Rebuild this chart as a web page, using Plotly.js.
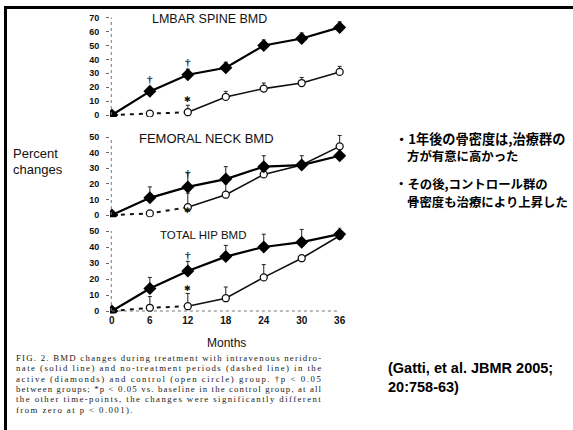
<!DOCTYPE html>
<html>
<head>
<meta charset="utf-8">
<script src="https://cdn.plot.ly/plotly-3.0.1.min.js"></script>
<style>html,body{margin:0;padding:0;background:#fff;}#chart{width:573px;height:430px;}</style>
</head>
<body>
<div id="chart"></div>
<script>
// ---- data ----
const months = [0, 6, 12, 18, 24, 30, 36];
const monthLabels = ["0", "6", "12", "18", "24", "30", "36"];

const lumbarActive = [0, 17, 29, 34, 50, 55, 63];
const lumbarActiveErr = [0, 3, 4, 4, 4, 4, 4];
const lumbarControl = [0, 1, 2, 13, 19, 23, 31];
const lumbarControlErr = [0, 2, 5, 4, 4, 4, 4];

const femoralActive = [0, 11, 18, 23, 31, 32, 38];
const femoralActiveErr = [0, 7, 9, 8, 7, 0, 0];
const femoralControl = [0, 1, 5, 13, 26, 32, 44];
const femoralControlErr = [0, 0, 9, 7, 4, 6, 7];

const hipActive = [0, 14, 25, 34, 40, 43, 48];
const hipActiveErr = [0, 7, 6, 7, 8, 8, 4];
const hipControl = [0, 2, 3, 8, 21, 33, 47];
const hipControlErr = [0, 7, 8, 7, 8, 0, 0];

// significance marks: [month, value]
const daggerLumbar = [[6, 26], [12, 38]];
const starLumbar = [[12, 11]];
const daggerFemoral = [[12, 27]];
const starFemoral = [[12, 3]];
const daggerHip = [[12, 35]];
const starHip = [[12, 14]];

const panelTitles = ["LMBAR SPINE BMD", "FEMORAL NECK BMD", "TOTAL HIP BMD"];
const yTickVals = [[0, 10, 20, 30, 40, 50, 60, 70], [0, 10, 20, 30, 40, 50], [0, 10, 20, 30, 40, 50]];

const jpLines = ["・1年後の骨密度は,治療群の", "方が有意に高かった", "・その後,コントロール群の", "骨密度も治療により上昇した"];
const citeLines = ["(Gatti, et al. JBMR 2005;", "20:758-63)"];
const captionLines = [
  "FIG. 2. BMD changes during treatment with intravenous neridro-",
  "nate (solid line) and no-treatment periods (dashed line) in the",
  "active (diamonds) and control (open circle) group. †p < 0.05",
  "between groups; *p < 0.05 vs. baseline in the control group, at all",
  "the other time-points, the changes were significantly different",
  "from zero at p < 0.001)."
];

// ---- layout helpers ----
const W = 573, H = 430;
const px = x => x / W;
const py = y => 1 - y / H;

const xDom = [px(110), px(346)];
const xRange = [-0.3, 37];
const panels = [
  {zero: 115, ppu: 1.39, range: [-1.5, 72]},
  {zero: 215, ppu: 1.56, range: [-1.5, 52]},
  {zero: 311, ppu: 1.60, range: [-1.5, 52]}
];
function yDomain(p) {
  const top = p.zero - p.range[1] * p.ppu;
  const bot = p.zero - p.range[0] * p.ppu;
  return [py(bot), py(top)];
}

const datasets = [
  [lumbarActive, lumbarActiveErr, lumbarControl, lumbarControlErr, daggerLumbar, starLumbar],
  [femoralActive, femoralActiveErr, femoralControl, femoralControlErr, daggerFemoral, starFemoral],
  [hipActive, hipActiveErr, hipControl, hipControlErr, daggerHip, starHip]
];

const traces = [];
const annotations = [];
const shapes = [];
const titleX = [150, 137, 158];
const titleY = [19, 138, 235];
const titleSize = [12.5, 13, 11.5];

datasets.forEach((d, i) => {
  const xa = i === 0 ? 'x' : 'x' + (i + 1);
  const ya = i === 0 ? 'y' : 'y' + (i + 1);
  const [act, actErr, ctl, ctlErr, dag, star] = d;
  traces.push({
    x: months.slice(0, 3), y: ctl.slice(0, 3), xaxis: xa, yaxis: ya,
    mode: 'lines', line: {color: '#111', width: 2, dash: '4px,5px'}, hoverinfo: 'skip'
  });
  traces.push({
    x: months.slice(2), y: ctl.slice(2), xaxis: xa, yaxis: ya,
    mode: 'lines', line: {color: '#111', width: 1.6}, hoverinfo: 'skip'
  });
  traces.push({
    x: months.slice(1), y: ctl.slice(1), xaxis: xa, yaxis: ya,
    mode: 'markers',
    marker: {symbol: 'circle', size: 7, color: '#fff', line: {color: '#111', width: 1.3}},
    error_y: {type: 'data', symmetric: false, array: ctlErr.slice(1), arrayminus: ctlErr.slice(1).map(() => 0), color: '#222', thickness: 1, width: 2}
  });
  traces.push({
    x: months, y: act, xaxis: xa, yaxis: ya,
    mode: 'lines+markers',
    line: {color: '#000', width: 2.2},
    marker: {symbol: 'diamond', size: 10, color: '#000'},
    error_y: {type: 'data', symmetric: false, array: actErr, arrayminus: actErr.map(() => 0), color: '#222', thickness: 1, width: 2}
  });
  dag.forEach(([m, v]) => annotations.push({x: m, y: v, xref: xa, yref: ya, text: '†', showarrow: false,
    font: {family: 'Liberation Serif, serif', size: 11, color: '#222', weight: 'bold'}}));
  star.forEach(([m, v]) => annotations.push({x: m, y: v, xref: xa, yref: ya, text: '✱', showarrow: false,
    font: {family: 'DejaVu Sans, sans-serif', size: 8, color: '#111'}}));
  shapes.push({type: 'line', xref: xa, yref: ya, x0: -0.1, x1: -0.1, y0: 0, y1: yTickVals[i][yTickVals[i].length - 1],
    line: {color: '#777', width: 1, dash: 'dot'}});
  annotations.push({xref: 'paper', yref: 'paper', x: px(titleX[i]), y: py(titleY[i]),
    xanchor: 'left', yanchor: 'middle', text: panelTitles[i], showarrow: false,
    font: {family: 'Liberation Sans, Arial, sans-serif', size: titleSize[i], color: '#111'}});
});
shapes.push({type: 'line', xref: 'x3', yref: 'y3', x0: 0, x1: 36, y0: 0, y1: 0, line: {color: '#777', width: 1, dash: 'dot'}});

// borders (scan frame)
shapes.push({type: 'rect', xref: 'paper', yref: 'paper', x0: px(4), x1: px(7), y0: 0, y1: py(6), fillcolor: '#000', line: {width: 0}});
shapes.push({type: 'rect', xref: 'paper', yref: 'paper', x0: px(4), x1: 1, y0: py(9), y1: py(6), fillcolor: '#000', line: {width: 0}});

const sideFont = {family: 'Liberation Sans, Arial, sans-serif', size: 13, color: '#111'};
annotations.push({xref: 'paper', yref: 'paper', x: px(11), y: py(154), xanchor: 'left', yanchor: 'middle', text: 'Percent', showarrow: false, font: sideFont});
annotations.push({xref: 'paper', yref: 'paper', x: px(11), y: py(169), xanchor: 'left', yanchor: 'middle', text: 'changes', showarrow: false, font: sideFont});
annotations.push({xref: 'paper', yref: 'paper', x: px(226), y: py(343), xanchor: 'center', yanchor: 'middle', text: 'Months', showarrow: false,
  font: {family: 'Liberation Sans, Arial, sans-serif', size: 12, color: '#111'}});

const jpY = [138, 156, 184, 202];
const jpX = [393, 405, 393, 405];
const jpSize = [13.2, 12.4, 12.4, 12.4];
jpLines.forEach((t, k) => annotations.push({xref: 'paper', yref: 'paper', x: px(jpX[k]), y: py(jpY[k]), xanchor: 'left', yanchor: 'middle',
  text: t, showarrow: false, font: {family: 'Noto Sans CJK JP, sans-serif', size: jpSize[k], color: '#000', weight: 'bold'}}));

const citeY = [368, 387];
citeLines.forEach((t, k) => annotations.push({xref: 'paper', yref: 'paper', x: px(386), y: py(citeY[k]), xanchor: 'left', yanchor: 'middle',
  text: t, showarrow: false, font: {family: 'Liberation Sans, Arial, sans-serif', size: 14.5, color: '#000', weight: 'bold'}}));

const captionStart = annotations.length;
captionLines.forEach((t, k) => annotations.push({xref: 'paper', yref: 'paper', x: px(14), y: py(358 + k * 10.3), xanchor: 'left', yanchor: 'middle',
  align: 'left', text: t, showarrow: false, font: {family: 'Liberation Serif, Times New Roman, serif', size: 8.8, color: '#1a1a1a'}}));

const tickFont = {family: 'Liberation Sans, Arial, sans-serif', size: 9, color: '#111', weight: 'bold'};
function yAxis(i) {
  return {domain: yDomain(panels[i]), range: panels[i].range, tickvals: yTickVals[i], ticktext: yTickVals[i].map(String),
    showgrid: false, zeroline: false, showline: false, ticks: 'outside', ticklen: 3, tickwidth: 1, tickcolor: '#666',
    tickfont: tickFont, ticklabelstandoff: 5, anchor: i === 0 ? 'x' : 'x' + (i + 1), fixedrange: true};
}
function xAxis(i, show) {
  return {domain: xDom, range: xRange, tickvals: months, ticktext: monthLabels, showticklabels: show,
    showgrid: false, zeroline: false, showline: false, ticks: '', tickfont: Object.assign({}, tickFont, {size: 10}),
    anchor: i === 0 ? 'y' : 'y' + (i + 1), fixedrange: true};
}

const layout = {
  width: W, height: H, margin: {l: 0, r: 0, t: 0, b: 0}, paper_bgcolor: '#fff', plot_bgcolor: 'rgba(0,0,0,0)',
  showlegend: false,
  xaxis: xAxis(0, false), xaxis2: xAxis(1, false), xaxis3: xAxis(2, true),
  yaxis: yAxis(0), yaxis2: yAxis(1), yaxis3: yAxis(2),
  annotations: annotations, shapes: shapes
};

Plotly.newPlot('chart', traces, layout, {staticPlot: true, displayModeBar: false}).then(gd => {
  // justify the scanned caption lines to the original column width
  const target = 305;
  let lastSpacing = 0.8;
  gd.querySelectorAll('g.annotation').forEach(g => {
    const idx = +g.getAttribute('data-index');
    const k = idx - captionStart;
    if (k < 0 || k >= captionLines.length) return;
    const txt = g.querySelector('text.annotation-text');
    if (!txt) return;
    const len = txt.getComputedTextLength();
    const n = txt.textContent.length;
    let ls = k < captionLines.length - 1 ? (target - len) / Math.max(1, n - 1) : lastSpacing;
    if (k < captionLines.length - 1) lastSpacing = ls;
    txt.style.letterSpacing = ls.toFixed(2) + 'px';
  });
});
</script>
</body>
</html>
